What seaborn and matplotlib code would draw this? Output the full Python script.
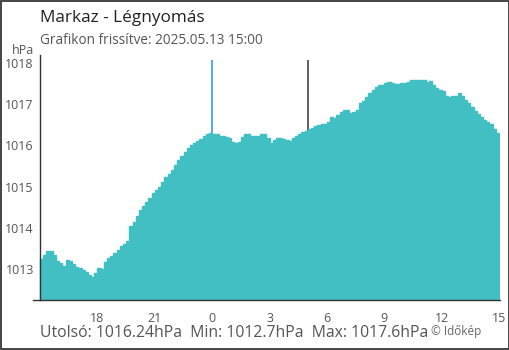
import numpy as np
import pandas as pd
import matplotlib
matplotlib.use("Agg")
import matplotlib.pyplot as plt
from matplotlib.patches import Rectangle
import seaborn as sns

# --- data (10-minute pressure readings, hPa), 15:00 -> 15:00 next day ---
pressure = [
    1013.24, 1013.33, 1013.43, 1013.44, 1013.33, 1013.18, 1013.14, 1013.07, 1013.22, 1013.18,
    1013.11, 1013.05, 1013.02, 1012.97, 1012.92, 1012.85, 1012.80, 1012.90, 1013.03, 1012.99,
    1013.16, 1013.26, 1013.31, 1013.38, 1013.45, 1013.55, 1013.60, 1013.67, 1014.04, 1014.14,
    1014.28, 1014.43, 1014.53, 1014.62, 1014.72, 1014.84, 1014.91, 1014.99, 1015.11, 1015.23,
    1015.30, 1015.40, 1015.52, 1015.64, 1015.74, 1015.84, 1015.94, 1016.01, 1016.06, 1016.11,
    1016.16, 1016.23, 1016.28, 1016.31, 1016.29, 1016.28, 1016.24, 1016.23, 1016.20, 1016.18,
    1016.08, 1016.05, 1016.08, 1016.20, 1016.27, 1016.28, 1016.24, 1016.22, 1016.24, 1016.29,
    1016.28, 1016.18, 1016.05, 1016.14, 1016.17, 1016.17, 1016.16, 1016.13, 1016.12, 1016.17,
    1016.23, 1016.27, 1016.33, 1016.36, 1016.40, 1016.42, 1016.48, 1016.50, 1016.51, 1016.53,
    1016.57, 1016.69, 1016.67, 1016.73, 1016.81, 1016.87, 1016.86, 1016.80, 1016.81, 1016.86,
    1017.03, 1017.08, 1017.18, 1017.27, 1017.36, 1017.42, 1017.46, 1017.48, 1017.53, 1017.55,
    1017.51, 1017.49, 1017.49, 1017.52, 1017.51, 1017.54, 1017.58, 1017.59, 1017.58, 1017.60,
    1017.59, 1017.55, 1017.56, 1017.47, 1017.40, 1017.36, 1017.32, 1017.21, 1017.19, 1017.20,
    1017.21, 1017.27, 1017.21, 1017.10, 1017.03, 1016.93, 1016.84, 1016.76, 1016.69, 1016.62,
    1016.57, 1016.52, 1016.40, 1016.30,
]
step_minutes = 10
tick_hours = [0, 3, 6, 9, 12, 15, 18, 21, 24]          # hours since 15:00
tick_labels = ["", "18", "21", "0", "3", "6", "9", "12", "15"]
y_ticks = [1013, 1014, 1015, 1016, 1017, 1018]
midnight_hour = 9       # 00:00
marker_hour = 14        # 05:00
title = "Markaz - Légnyomás"
subtitle = "Grafikon frissítve: 2025.05.13 15:00"
footer = "Utolsó: 1016.24hPa  Min: 1012.7hPa  Max: 1017.6hPa"
credit = "© Időkép"

hours = (np.arange(len(pressure)) + 0.5) * step_minutes / 60.0
df = pd.DataFrame({"h": hours, "p": pressure})

sns.set_style("white")
plt.rcParams["font.family"] = ["Open Sans", "DejaVu Sans"]

W, H = 510, 350
fig = plt.figure(figsize=(W / 100, H / 100), dpi=100)
ax = fig.add_axes([33 / W, 50 / H, 467 / W, 245 / H])

bar_color = "#41bfc2"
blue = "#2196e8"
dark = "#333333"

# vertical marker lines (behind bars)
ax.vlines([midnight_hour], 1012.0, 1018.08, color=blue, lw=1.1, zorder=1)
ax.vlines([marker_hour], 1012.0, 1018.08, color=dark, lw=1.1, zorder=1)

sns.barplot(data=df, x="h", y="p", native_scale=True, width=1.0,
            color=bar_color, saturation=1, linewidth=1.0, edgecolor=bar_color,
            ax=ax, zorder=2)

ax.set_xlim(-0.37, 24.05)
ax.set_ylim(1012.24, 1018.20)
ax.set_xlabel("")
ax.set_ylabel("")

for s in ["top", "right"]:
    ax.spines[s].set_visible(False)
ax.spines["left"].set_position(("data", 0))
for s in ["left", "bottom"]:
    ax.spines[s].set_color(dark)
    ax.spines[s].set_linewidth(1.0)
    ax.spines[s].set_zorder(3)

ax.set_xticks(tick_hours)
ax.set_xticklabels(tick_labels)
ax.set_yticks(y_ticks)
ax.set_yticklabels([str(v) for v in y_ticks])
ax.tick_params(axis="x", direction="out", length=5, width=1, color=dark,
               labelsize=9, labelcolor="#555555", pad=3.5)
ax.tick_params(axis="y", direction="inout", length=8, width=1, color=dark,
               labelsize=9, labelcolor="#555555", pad=0.5)
for t, lab in zip(ax.xaxis.get_major_ticks(), tick_hours):
    if lab == midnight_hour:
        t.tick1line.set_color(blue)
ax.grid(False)
ax.set_facecolor("white")

fig.text(34 / W, 1 - 51 / H, "hPa", ha="right", va="center", fontsize=9, color="#555555")
fig.text(40 / W, 1 - 18 / H, title, ha="left", va="center", fontsize=12.4, color="#222222")
fig.text(40 / W, 1 - 40 / H, subtitle, ha="left", va="center", fontsize=9.8, color="#555555")
fig.text(40 / W, 1 - 333 / H, footer, ha="left", va="center", fontsize=11.3, color="#555555")
fig.text(431 / W, 1 - 331 / H, credit, ha="left", va="center", fontsize=8.5, color="#666666")

fig.patches.append(Rectangle((0.7 / W, 0.7 / H), 1 - 1.4 / W, 1 - 1.4 / H,
                             transform=fig.transFigure, fill=False,
                             edgecolor="#444444", linewidth=1.4))

fig.savefig("out.png", dpi=100, facecolor="white")
